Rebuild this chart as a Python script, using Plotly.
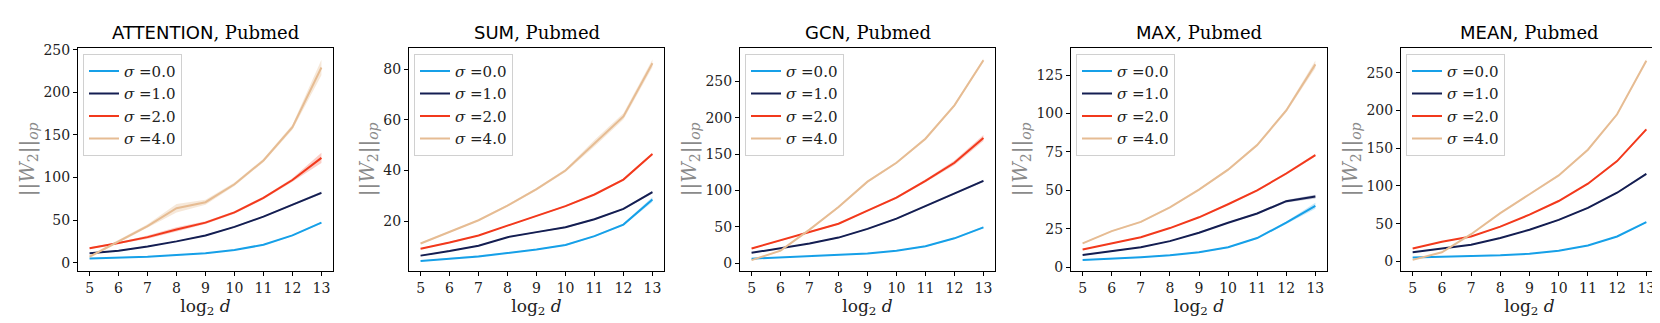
import plotly.graph_objects as go

# x values: log2 d
log_d = [5, 6, 7, 8, 9, 10, 11, 12, 13]
sigmas = ["0.0", "1.0", "2.0", "4.0"]
colors = ["#16A0E8", "#141E52", "#F2391C", "#E6BC93"]
band_colors = ["rgba(22,160,232,0.25)", "rgba(20,30,82,0.25)",
               "rgba(242,57,28,0.25)", "rgba(230,188,147,0.35)"]

models = ["ATTENTION", "SUM", "GCN", "MAX", "MEAN"]

attention = [
    [5, 6, 7, 9, 11, 15, 21, 32, 47],
    [11, 14, 19, 25, 32, 42, 54, 68, 82],
    [17, 23, 30, 39, 47, 59, 76, 97, 123],
    [7, 25, 43, 64, 71, 92, 120, 159, 229],
]
attention_std = [
    [0.5, 0.5, 0.5, 0.5, 0.5, 0.5, 0.7, 0.8, 1.0],
    [0.5, 0.5, 0.5, 0.5, 0.7, 0.8, 0.8, 1.0, 1.5],
    [1.0, 1.0, 2.0, 2.5, 1.5, 1.5, 1.5, 2.0, 6.0],
    [1.5, 1.5, 2.0, 5.0, 3.0, 2.0, 2.0, 3.0, 9.0],
]

sum_ = [
    [4.2, 5.2, 6.0, 7.3, 8.7, 10.5, 14.0, 18.6, 28.5],
    [6.3, 8.1, 10.2, 13.6, 15.6, 17.5, 20.7, 24.8, 31.4],
    [9.0, 11.5, 14.3, 18.1, 22.0, 25.9, 30.5, 36.4, 46.5],
    [11.1, 15.8, 20.3, 26.1, 32.6, 40.0, 50.8, 61.4, 82.4],
]
sum_std = [
    [0.2, 0.2, 0.2, 0.2, 0.2, 0.3, 0.3, 0.4, 1.0],
    [0.2, 0.2, 0.2, 0.2, 0.2, 0.3, 0.3, 0.3, 0.5],
    [0.2, 0.2, 0.2, 0.2, 0.2, 0.3, 0.3, 0.4, 0.5],
    [0.3, 0.3, 0.3, 0.4, 0.5, 0.6, 1.3, 1.2, 1.5],
]

gcn = [
    [6, 8, 9, 11, 13, 17, 23, 34, 49],
    [14, 20, 27, 35, 47, 61, 78, 95, 113],
    [20, 31, 43, 54, 72, 90, 113, 138, 172],
    [4, 17, 46, 77, 112, 138, 171, 217, 279],
]
gcn_std = [
    [0.5, 0.5, 0.5, 0.5, 0.5, 0.5, 0.8, 1.0, 1.2],
    [0.5, 0.5, 0.5, 0.8, 0.8, 1.0, 1.0, 1.0, 1.5],
    [0.8, 0.8, 1.0, 1.0, 1.0, 1.5, 2.0, 3.0, 4.0],
    [0.8, 1.0, 1.0, 1.5, 1.5, 1.5, 2.0, 2.0, 2.5],
]

max_ = [
    [4.7, 5.5, 6.5, 7.8, 9.7, 13.0, 19.0, 29.0, 40.0],
    [8.0, 10.5, 13.0, 17.0, 22.5, 29.0, 35.0, 43.0, 46.0],
    [11.5, 15.5, 19.5, 25.5, 32.5, 41.0, 50.0, 61.0, 73.0],
    [15.5, 23.5, 29.5, 39.0, 50.5, 63.5, 79.5, 102.0, 132.0],
]
max_std = [
    [0.3, 0.3, 0.3, 0.3, 0.4, 0.4, 0.5, 0.8, 2.0],
    [0.3, 0.3, 0.3, 0.3, 0.4, 0.4, 0.5, 0.8, 1.2],
    [0.3, 0.3, 0.3, 0.3, 0.4, 0.5, 0.6, 0.8, 0.8],
    [0.4, 0.4, 0.5, 0.5, 0.6, 0.8, 1.0, 1.2, 2.5],
]

mean_ = [
    [5, 6, 7, 8, 10, 14, 21, 33, 52],
    [12, 17, 22, 31, 42, 55, 71, 91, 116],
    [17, 26, 33, 46, 62, 80, 103, 133, 175],
    [2, 12, 36, 64, 89, 114, 148, 195, 266],
]
mean_std = [
    [0.5, 0.5, 0.5, 0.5, 0.5, 0.5, 0.6, 0.8, 1.0],
    [0.5, 0.5, 0.5, 0.5, 0.6, 0.8, 0.8, 1.0, 1.2],
    [0.5, 0.5, 0.6, 0.6, 0.8, 1.0, 1.0, 1.2, 1.5],
    [0.5, 0.6, 0.8, 1.0, 1.0, 1.2, 1.5, 1.5, 2.0],
]

all_data = [attention, sum_, gcn, max_, mean_]
all_std = [attention_std, sum_std, gcn_std, max_std, mean_std]
y_ranges = [[-9.5, 252], [0.3, 88.5], [-10.7, 296], [-2.3, 142.7], [-12.5, 283]]
y_ticks = [[0, 50, 100, 150, 200, 250], [20, 40, 60, 80], [0, 50, 100, 150, 200, 250],
           [0, 25, 50, 75, 100, 125], [0, 50, 100, 150, 200, 250]]

W, H = 1660, 323
x_px = [(70, 325), (401, 656), (732, 987), (1063, 1319), (1393, 1650)]
top_px, bot_px = 35, 265
y_dom = [(H - bot_px) / H, (H - top_px) / H]

serif = "DejaVu Serif"
sans = "DejaVu Sans"

fig = go.Figure()
layout = dict(width=W, height=H, margin=dict(l=0, r=0, t=0, b=0),
              font=dict(family=serif, size=14, color="#222"),
              paper_bgcolor="white", plot_bgcolor="white", showlegend=True)
annotations = []

for p, (model, data, std) in enumerate(zip(models, all_data, all_std)):
    sfx = "" if p == 0 else str(p + 1)
    xa, ya = "x" + sfx, "y" + sfx
    leg = "legend" + sfx
    # shaded spread around each curve
    for k in range(4):
        lo = [v - s for v, s in zip(data[k], std[k])]
        hi = [v + s for v, s in zip(data[k], std[k])]
        fig.add_trace(go.Scatter(x=log_d, y=lo, mode="lines", line=dict(width=0),
                                 xaxis=xa, yaxis=ya, showlegend=False, hoverinfo="skip"))
        fig.add_trace(go.Scatter(x=log_d, y=hi, mode="lines", line=dict(width=0),
                                 fill="tonexty", fillcolor=band_colors[k],
                                 xaxis=xa, yaxis=ya, showlegend=False, hoverinfo="skip"))
    for k in range(4):
        fig.add_trace(go.Scatter(
            x=log_d, y=data[k], mode="lines", line=dict(color=colors[k], width=2),
            name="<i>σ</i> =" + sigmas[k], xaxis=xa, yaxis=ya, legend=leg))

    x0, x1 = x_px[p]
    dom = [x0 / W, x1 / W]
    layout["xaxis" + sfx] = dict(
        domain=dom, anchor=ya, range=[4.6, 13.4], tickvals=log_d,
        showline=True, mirror=True, linecolor="black", linewidth=1,
        ticks="outside", ticklen=4, tickcolor="black", showgrid=False, zeroline=False,
        tickfont=dict(family=serif, size=14, color="#222"),
        title=dict(text="log<sub>2</sub> <i>d</i>", font=dict(family=serif, size=17, color="#222"),
                   standoff=2))
    layout["yaxis" + sfx] = dict(
        domain=y_dom, anchor=xa, range=y_ranges[p], tickvals=y_ticks[p],
        showline=True, mirror=True, linecolor="black", linewidth=1,
        ticks="outside", ticklen=4, tickcolor="black", showgrid=False, zeroline=False,
        tickfont=dict(family=serif, size=14, color="#222"),
        title=dict(text="||<i>W</i><sub>2</sub>||<sub><i>op</i></sub>",
                   font=dict(family=serif, size=20, color="#8a8a8a"), standoff=3))
    layout[leg] = dict(
        x=dom[0] + 5 / W, y=y_dom[1] - 6 / H, xanchor="left", yanchor="top",
        bgcolor="white", bordercolor="#d0d0d0", borderwidth=1, traceorder="normal",
        font=dict(family=serif, size=15, color="#222"), tracegroupgap=0)
    annotations.append(dict(
        x=(dom[0] + dom[1]) / 2, y=(H - top_px + 3) / H, xref="paper", yref="paper",
        xanchor="center", yanchor="bottom", showarrow=False,
        text=f"<span style='font-family:{sans}'>{model}</span>, Pubmed",
        font=dict(family=serif, size=18, color="black")))

layout["annotations"] = annotations
fig.update_layout(**layout)
fig.write_html("out.html")
